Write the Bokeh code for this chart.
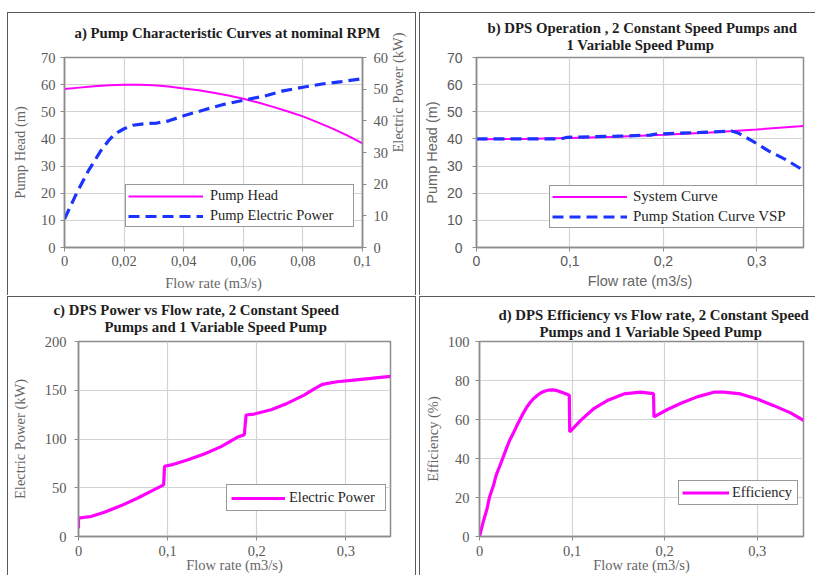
import math
from bokeh.plotting import figure
from bokeh.models import (Range1d, LinearAxis, FixedTicker, Legend, LegendItem,
                          Title, Spacer)
from bokeh.layouts import row, column
from bokeh.embed import file_html
from bokeh.resources import INLINE

SERIF = "Liberation Serif"
SANS = "Liberation Sans"
MAGENTA = "#ff00ff"
BLUE = "#1a33ff"
TICK_C = "#595959"
LABEL_C = "#666666"
AXIS_C = "#8c8c8c"
GRID_C = "#d3d3d3"
PANEL_BORDER = "1px solid #5a5a5a"

# ---------------- data ----------------
# a) pump characteristic curves
a_flow_ticks = [0, 0.02, 0.04, 0.06, 0.08, 0.1]
a_flow_labels = ["0", "0,02", "0,04", "0,06", "0,08", "0,1"]
a_head_ticks = [0, 10, 20, 30, 40, 50, 60, 70]
a_power_ticks = [0, 10, 20, 30, 40, 50, 60]
a_head_flow = [0, 0.005, 0.01, 0.015, 0.02, 0.025, 0.03, 0.035, 0.04, 0.045, 0.05,
               0.055, 0.06, 0.065, 0.07, 0.075, 0.08, 0.085, 0.09, 0.095, 0.1]
a_head = [58.4, 58.9, 59.4, 59.8, 60.0, 60.0, 59.8, 59.3, 58.6, 57.9, 57.0,
          56.0, 54.8, 53.4, 51.8, 50.1, 48.3, 46.1, 43.8, 41.2, 38.4]
a_power_flow = [0, 0.004, 0.008, 0.012, 0.015, 0.017, 0.02, 0.023, 0.027, 0.031, 0.035,
                0.04, 0.047, 0.053, 0.06, 0.067, 0.073, 0.08, 0.087, 0.093, 0.1]
a_power = [9.0, 17.0, 24.2, 30.3, 34.0, 35.9, 37.5, 38.6, 39.1, 39.3, 40.0,
           41.6, 43.5, 45.1, 46.5, 47.8, 49.4, 50.6, 51.7, 52.4, 53.3]

# shared flow axis for b, c, d
flow_ticks = [0, 0.1, 0.2, 0.3]
flow_labels = ["0", "0,1", "0,2", "0,3"]

# b) DPS operation
b_head_ticks = [0, 10, 20, 30, 40, 50, 60, 70]
b_sys_flow = [0, 0.05, 0.1, 0.15, 0.2, 0.25, 0.3, 0.35]
b_sys_head = [39.9, 40.0, 40.3, 40.8, 41.5, 42.4, 43.5, 44.8]
b_vsp_flow = [0, 0.09, 0.097, 0.15, 0.186, 0.192, 0.24, 0.273, 0.28, 0.296, 0.313, 0.331, 0.35]
b_vsp_head = [40.0, 40.0, 40.6, 41.0, 41.4, 41.8, 42.4, 42.9, 42.2, 39.1, 35.5, 32.4, 28.4]

# c) DPS power
c_power_ticks = [0, 50, 100, 150, 200]
c_flow = [0, 0, 0.014, 0.029, 0.048, 0.066, 0.085, 0.0955, 0.0965, 0.104, 0.122, 0.141,
          0.16, 0.178, 0.186, 0.188, 0.197, 0.216, 0.234, 0.253, 0.264, 0.2735, 0.29,
          0.309, 0.328, 0.35]
c_power = [8.5, 18.8, 20.5, 24.9, 31.7, 39.2, 48.1, 52.9, 72.0, 73.4, 78.5, 84.6,
           92.2, 101.7, 104.4, 124.6, 125.6, 130.0, 136.5, 145.0, 151.2, 156.0, 158.7,
           160.4, 162.1, 164.2]

# d) DPS efficiency
d_eff_ticks = [0, 20, 40, 60, 80, 100]
d_flow = [0, 0.004, 0.008, 0.011, 0.015, 0.018, 0.022, 0.026, 0.0295, 0.033, 0.037,
          0.04, 0.044, 0.0475, 0.051, 0.0545, 0.058, 0.062, 0.066, 0.07, 0.075, 0.0795,
          0.084, 0.091, 0.097, 0.0975, 0.109, 0.123, 0.138, 0.156, 0.174, 0.188, 0.1885,
          0.2025, 0.217, 0.235, 0.253, 0.264, 0.282, 0.3, 0.318, 0.336, 0.35]
d_eff = [0, 7.5, 14.0, 20.5, 26.0, 31.5, 36.3, 41.2, 45.7, 49.8, 53.4,
         56.5, 60.3, 63.4, 66.3, 68.6, 70.5, 72.2, 73.6, 74.5, 75.1, 75.2,
         74.8, 73.6, 72.5, 53.6, 59.4, 65.4, 69.7, 73.1, 74.0, 73.3, 61.3,
         65.0, 68.2, 71.6, 74.0, 74.0, 73.1, 70.5, 67.1, 63.4, 59.6]


# ---------------- helpers ----------------
def make_fig(w, h, xr, yr, left, right, top, bottom, css):
    p = figure(width=w, height=h, x_range=Range1d(*xr), y_range=Range1d(*yr),
               output_backend="svg", toolbar_location=None, title=None,
               min_border_left=left, min_border_right=right,
               min_border_top=top, min_border_bottom=bottom,
               background_fill_color="white", border_fill_color="white",
               outline_line_color=AXIS_C, outline_line_width=1.5)
    p.styles = css
    p.grid.grid_line_color = GRID_C
    p.grid.grid_line_width = 1.2
    return p


def style_axis(ax, font, tick_size, label_size, tick_standoff, label_standoff):
    ax.major_label_text_font = font
    ax.major_label_text_font_size = tick_size
    ax.major_label_text_color = TICK_C
    ax.axis_label_text_font = font
    ax.axis_label_text_font_size = label_size
    ax.axis_label_text_font_style = "normal"
    ax.axis_label_text_color = LABEL_C
    ax.axis_line_color = AXIS_C
    ax.axis_line_width = 1.5
    ax.major_tick_line_color = AXIS_C
    ax.major_tick_in = 0
    ax.major_tick_out = 4
    ax.minor_tick_line_color = None
    ax.major_label_standoff = tick_standoff
    ax.axis_label_standoff = label_standoff


def set_ticks(p, dim, ticks, labels=None):
    t = FixedTicker(ticks=ticks)
    axes = p.xaxis if dim == "x" else p.yaxis
    grids = p.xgrid if dim == "x" else p.ygrid
    axes[0].ticker = t
    grids[0].ticker = t
    if labels is not None:
        axes[0].major_label_overrides = dict(zip(ticks, labels))


def add_title(p, lines, offsets, standoffs):
    # inner line first (closest to frame)
    for text, off, so in reversed(list(zip(lines, offsets, standoffs))):
        p.add_layout(Title(text=text, align="left", offset=off, standoff=so,
                           text_font=SERIF, text_font_size="14.8px",
                           text_font_style="bold", text_color="#1e1e1e"), "above")


def make_legend(items, loc, pad, spacing, gw, gh, standoff, lw, size):
    return Legend(items=items, location=loc, padding=pad, spacing=spacing,
                  glyph_width=gw, glyph_height=gh, label_height=gh,
                  label_standoff=standoff, label_width=lw, margin=0,
                  label_text_font=SERIF, label_text_font_size=size,
                  label_text_color="#262626", border_line_color="#333333",
                  border_line_width=1, background_fill_color="white",
                  background_fill_alpha=1.0)


# ---------------- a ----------------
fa = make_fig(409, 283, (0, 0.1), (0, 70), 54, 55, 44, 49,
              {"border-left": PANEL_BORDER, "border-top": PANEL_BORDER,
               "border-right": PANEL_BORDER})
fa.extra_y_ranges = {"power": Range1d(0, 60)}
set_ticks(fa, "x", a_flow_ticks, a_flow_labels)
set_ticks(fa, "y", a_head_ticks)
ra = LinearAxis(y_range_name="power", ticker=FixedTicker(ticks=a_power_ticks),
                axis_label="Electric Power (kW)")
fa.add_layout(ra, "right")
style_axis(fa.xaxis[0], SERIF, "14.5px", "14.5px", 4, 6)
style_axis(fa.yaxis[0], SERIF, "14.5px", "14.5px", 5, 10)
style_axis(ra, SERIF, "14.5px", "14.5px", 7, 7)
# source's right-axis title reads bottom-to-top
ra.axis_label_orientation = math.pi / 2
ra.axis_label_text_align = "center"
fa.xaxis[0].axis_label = "Flow rate (m3/s)"
fa.yaxis[0].axis_label = "Pump Head (m)"
ra1 = fa.line(a_head_flow, a_head, line_color=MAGENTA, line_width=2)
ra2 = fa.line(a_power_flow, a_power, y_range_name="power", line_color=BLUE,
              line_width=3.2, line_dash="11 6")
fa.add_layout(make_legend([LegendItem(label="Pump Head", renderers=[ra1]),
                           LegendItem(label="Pump Electric Power", renderers=[ra2])],
                          (61, 20), 2, 3, 75, 16, 7, 141, "14.5px"))
add_title(fa, ["a) Pump Characteristic Curves at nominal RPM", " "], [10, 10], [-2, 0])

# ---------------- b ----------------
fb = make_fig(396, 283, (0, 0.35), (0, 70), 53, 13, 44, 49,
              {"border-left": PANEL_BORDER, "border-top": PANEL_BORDER})
set_ticks(fb, "x", flow_ticks, flow_labels)
set_ticks(fb, "y", b_head_ticks)
style_axis(fb.xaxis[0], SANS, "14px", "14.5px", 4, 4)
style_axis(fb.yaxis[0], SANS, "14px", "14.5px", 10, 4)
fb.xaxis[0].axis_label = "Flow rate (m3/s)"
fb.yaxis[0].axis_label = "Pump Head (m)"
rb1 = fb.line(b_sys_flow, b_sys_head, line_color=MAGENTA, line_width=2)
rb2 = fb.line(b_vsp_flow, b_vsp_head, line_color=BLUE, line_width=3.2, line_dash="11 6")
fb.add_layout(make_legend([LegendItem(label="System Curve", renderers=[rb1]),
                           LegendItem(label="Pump Station Curve VSP", renderers=[rb2])],
                          (73, 19), 2, 3, 75, 17, 6, 168, "15px"))
add_title(fb, ["b) DPS Operation , 2 Constant Speed Pumps and", "1 Variable Speed Pump"],
          [11, 90], [-10, 9])

# ---------------- c ----------------
fc = make_fig(409, 279, (0, 0.35), (0, 200), 69, 27, 44, 40,
              {"border-left": PANEL_BORDER, "border-top": PANEL_BORDER,
               "border-right": PANEL_BORDER})
set_ticks(fc, "x", flow_ticks, flow_labels)
set_ticks(fc, "y", c_power_ticks)
style_axis(fc.xaxis[0], SERIF, "14.5px", "14.5px", 5, -2)
style_axis(fc.yaxis[0], SERIF, "14.5px", "14.5px", 8, 14)
fc.xaxis[0].axis_label = "Flow rate (m3/s)"
fc.yaxis[0].axis_label = "Electric Power (kW)"
rc = fc.line(c_flow, c_power, line_color=MAGENTA, line_width=3.2)
fc.add_layout(make_legend([LegendItem(label="Electric Power", renderers=[rc])],
                          (148, 25), 4, 0, 54, 16, 4, 92, "14.5px"))
add_title(fc, ["c) DPS Power vs Flow rate, 2 Constant Speed",
               "Pumps and 1 Variable Speed Pump"], [-25, 26], [-16, 14])

# ---------------- d ----------------
fd = make_fig(396, 279, (0, 0.35), (0, 100), 59, 13, 44, 40,
              {"border-left": PANEL_BORDER, "border-top": PANEL_BORDER})
set_ticks(fd, "x", flow_ticks, flow_labels)
set_ticks(fd, "y", d_eff_ticks)
style_axis(fd.xaxis[0], SERIF, "14.5px", "14.5px", 5, -2)
style_axis(fd.yaxis[0], SERIF, "14.5px", "14.5px", 6, 4)
fd.xaxis[0].axis_label = "Flow rate (m3/s)"
fd.yaxis[0].axis_label = "Efficiency (%)"
rd = fd.line(d_flow, d_eff, line_color=MAGENTA, line_width=3.2)
fd.add_layout(make_legend([LegendItem(label="Efficiency", renderers=[rd])],
                          (199, 31), 3, 0, 47, 17, 3, 62, "14.5px"))
add_title(fd, ["d) DPS Efficiency vs Flow rate, 2 Constant Speed",
               "Pumps and 1 Variable Speed Pump"], [19, 60], [-5, 3])

layout = column(
    Spacer(width=818, height=12),
    row(Spacer(width=7, height=284), fa, Spacer(width=3, height=284), fb, spacing=0),
    row(Spacer(width=7, height=280), fc, Spacer(width=3, height=280), fd, spacing=0),
    spacing=0,
)

open("out.html", "w").write(file_html(layout, INLINE))
